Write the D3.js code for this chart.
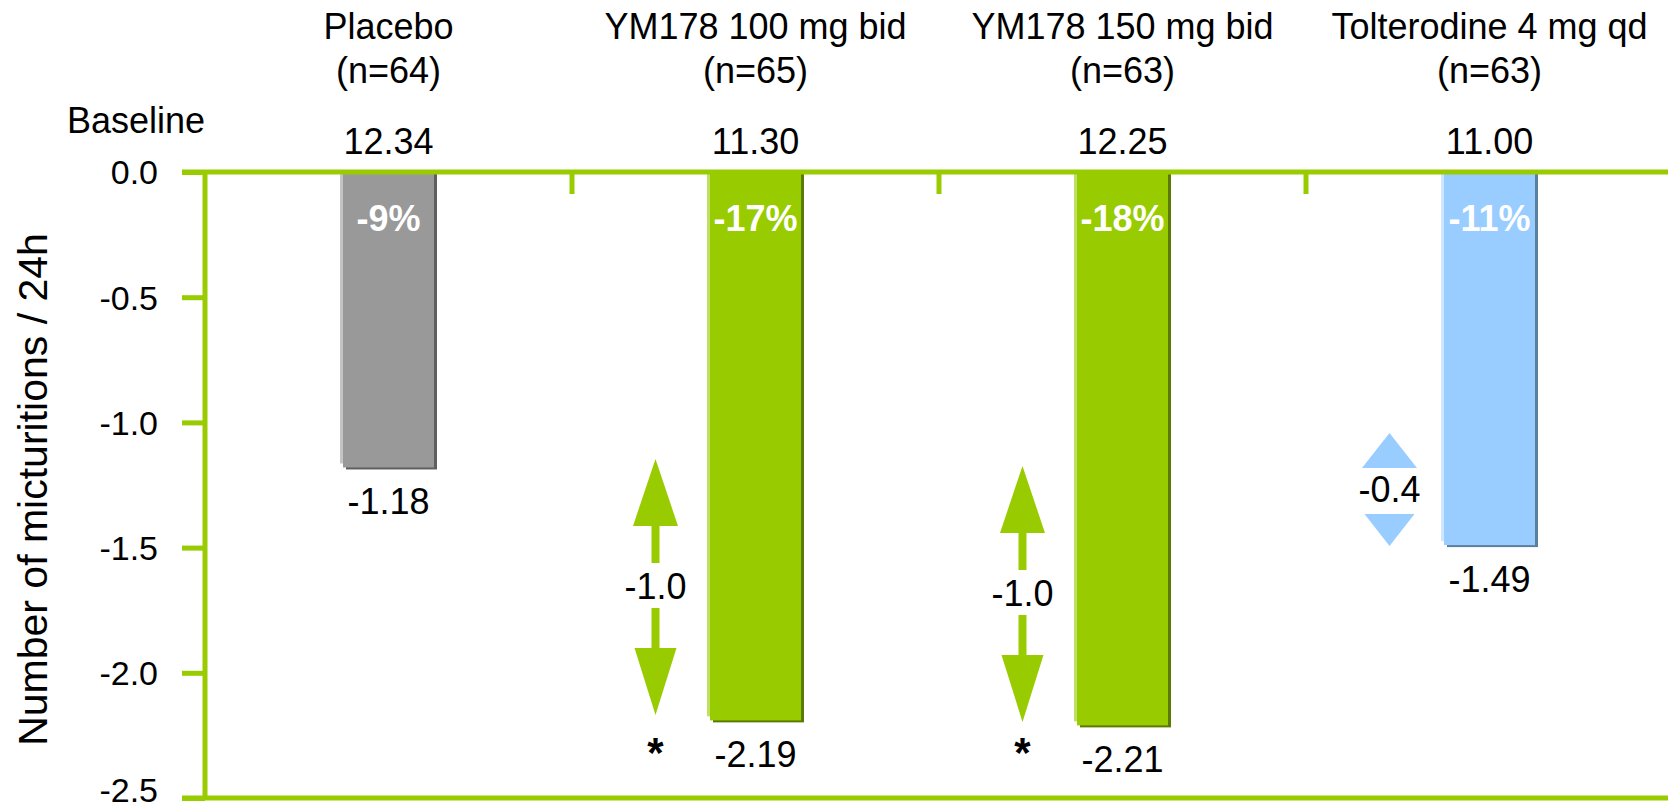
<!DOCTYPE html>
<html>
<head>
<meta charset="utf-8">
<script src="https://cdn.jsdelivr.net/npm/d3@7"></script>
<style>
  html, body { margin: 0; padding: 0; background: #fff; }
  svg { display: block; font-family: "Liberation Sans", Arial, sans-serif; }
</style>
</head>
<body>
<svg id="chart" width="1668" height="811"></svg>
<script>
// ---- data ----
const categories = ["Placebo", "YM178 100 mg bid", "YM178 150 mg bid", "Tolterodine 4 mg qd"];
const nLabels = ["(n=64)", "(n=65)", "(n=63)", "(n=63)"];
const baselineValues = ["12.34", "11.30", "12.25", "11.00"];
const changeValues = [-1.18, -2.19, -2.21, -1.49];
const changeLabels = ["-1.18", "-2.19", "-2.21", "-1.49"];
const percentLabels = ["-9%", "-17%", "-18%", "-11%"];
const barKinds = ["gray", "green", "green", "blue"];
const yTicks = [0, -0.5, -1.0, -1.5, -2.0, -2.5];
const yTickLabels = ["0.0", "-0.5", "-1.0", "-1.5", "-2.0", "-2.5"];
// difference arrows: category index, top value, bottom value, label, significance
const diffCats = [1, 2, 3];
const diffTop = [-1.146, -1.174, -1.042];
const diffBottom = [-2.169, -2.196, -1.494];
const diffLabels = ["-1.0", "-1.0", "-0.4"];
const diffStars = [true, true, false];

// ---- styles ----
const LINE = "#99cc00";
const palette = {
  gray:  { main: "#999999", light: "#c4c4c4", dark: "#5f5f5f" },
  green: { main: "#99cc00", light: "#bfe163", dark: "#5b7a00" },
  blue:  { main: "#99ccff", light: "#cfe6ff", dark: "#5d7f9f" }
};

const svg = d3.select("#chart");
const plotLeft = 205, plotTop = 172, plotBottom = 798, bandW = 367;

const y = d3.scaleLinear().domain([-2.5, 0]).range([plotBottom, plotTop]);
const x = d3.scaleBand().domain(categories).range([plotLeft, plotLeft + bandW * categories.length]).paddingInner(0).paddingOuter(0);
const cx = c => x(c) + x.bandwidth() / 2;
const barW = 91;

// ---- bars ----
const bars = svg.append("g");
categories.forEach((c, i) => {
  const p = palette[barKinds[i]];
  const x0 = cx(c) - barW / 2;
  const yb = y(changeValues[i]);
  bars.append("rect").attr("x", x0 + 3).attr("y", y(0)).attr("width", barW).attr("height", yb - y(0) + 2).attr("fill", p.dark);
  bars.append("rect").attr("x", x0 - 3).attr("y", y(0)).attr("width", barW).attr("height", yb - y(0) - 4).attr("fill", p.light);
  bars.append("rect").attr("x", x0).attr("y", y(0)).attr("width", barW).attr("height", yb - y(0)).attr("fill", p.main);
});

// ---- axis lines ----
const axisG = svg.append("g").attr("transform", `translate(${plotLeft},0)`);
const yAxis = d3.axisLeft(y).tickValues(yTicks).tickSize(23).tickPadding(0)
  .tickFormat((d, i) => yTickLabels[i]);
axisG.call(yAxis);
axisG.select(".domain").remove();
axisG.selectAll(".tick line").attr("stroke", LINE).attr("stroke-width", 5);
axisG.selectAll(".tick text")
  .attr("x", -47).attr("dy", d => d === -2.5 ? "0.1em" : "0.35em")
  .attr("fill", "#000").style("font-size", "34px").style("font-family", '"Liberation Sans", Arial, sans-serif');

svg.append("line").attr("x1", plotLeft).attr("x2", plotLeft).attr("y1", y(0)).attr("y2", y(-2.5))
  .attr("stroke", LINE).attr("stroke-width", 5);
svg.append("line").attr("x1", plotLeft - 23).attr("x2", 1668).attr("y1", y(0)).attr("y2", y(0))
  .attr("stroke", LINE).attr("stroke-width", 5);
svg.append("line").attr("x1", plotLeft - 23).attr("x2", 1668).attr("y1", y(-2.5)).attr("y2", y(-2.5))
  .attr("stroke", LINE).attr("stroke-width", 5);
categories.slice(1).forEach(c => {
  svg.append("line").attr("x1", x(c)).attr("x2", x(c)).attr("y1", y(0)).attr("y2", y(0) + 22)
    .attr("stroke", LINE).attr("stroke-width", 5);
});

// ---- texts ----
const t = svg.append("g").attr("fill", "#000").style("font-size", "36px");
categories.forEach((c, i) => {
  t.append("text").attr("x", cx(c)).attr("y", 39).attr("text-anchor", "middle").text(c);
  t.append("text").attr("x", cx(c)).attr("y", 83).attr("text-anchor", "middle").text(nLabels[i]);
  t.append("text").attr("x", cx(c)).attr("y", 154).attr("text-anchor", "middle").text(baselineValues[i]);
  t.append("text").attr("x", cx(c)).attr("y", y(changeValues[i]) + 47).attr("text-anchor", "middle").text(changeLabels[i]);
  t.append("text").attr("x", cx(c)).attr("y", 231).attr("text-anchor", "middle")
    .attr("fill", "#fff").style("font-weight", "bold").text(percentLabels[i]);
});
t.append("text").attr("x", 205).attr("y", 133).attr("text-anchor", "end").text("Baseline");

svg.append("text")
  .attr("transform", `translate(47,${(236 + 743) / 2}) rotate(-90)`)
  .attr("text-anchor", "middle").style("font-size", "41px").attr("fill", "#000")
  .text("Number of micturitions / 24h");

// ---- difference arrows ----
const ag = svg.append("g");
diffCats.forEach((ci, k) => {
  const ax = cx(categories[ci]) - 100;
  const yt = y(diffTop[k]), yb = y(diffBottom[k]);
  const mid = (yt + yb) / 2;
  const kind = barKinds[ci];
  const col = palette[kind].main;
  if (kind === "green") {
    const hl = 67, hw = 22.5, sw = 4;
    ag.append("path").attr("fill", col).attr("d",
      `M${ax},${yt} L${ax + hw},${yt + hl} L${ax + sw},${yt + hl} L${ax + sw},${mid - 24} L${ax - sw},${mid - 24} L${ax - sw},${yt + hl} L${ax - hw},${yt + hl} Z`);
    ag.append("path").attr("fill", col).attr("d",
      `M${ax},${yb} L${ax + 21},${yb - hl} L${ax + sw},${yb - hl} L${ax + sw},${mid + 21} L${ax - sw},${mid + 21} L${ax - sw},${yb - hl} L${ax - 21},${yb - hl} Z`);
  } else {
    ag.append("path").attr("fill", col).attr("d",
      `M${ax},${yt} L${ax + 27.5},${yt + 35} L${ax - 27.5},${yt + 35} Z`);
    ag.append("path").attr("fill", col).attr("d",
      `M${ax},${yb} L${ax + 25},${yb - 32} L${ax - 25},${yb - 32} Z`);
  }
  ag.append("text").attr("x", ax).attr("y", mid + 12).attr("text-anchor", "middle")
    .style("font-size", "36px").attr("fill", "#000").text(diffLabels[k]);
  if (diffStars[k]) {
    ag.append("text").attr("x", ax).attr("y", 767).attr("text-anchor", "middle")
      .style("font-size", "42px").style("font-weight", "bold").attr("fill", "#000").text("*");
  }
});
</script>
</body>
</html>
